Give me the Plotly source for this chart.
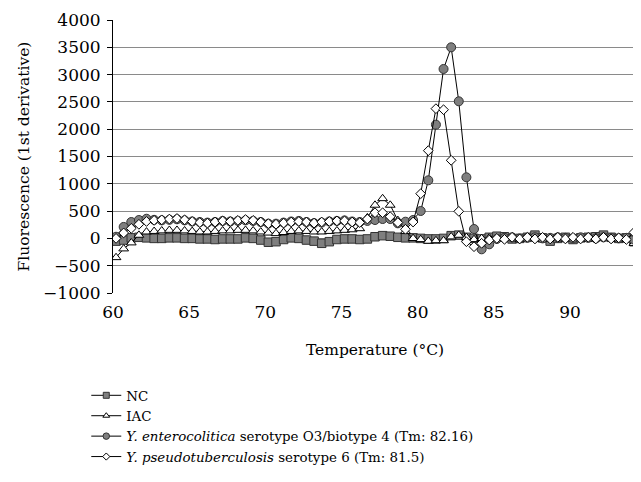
import plotly.graph_objects as go

temperature = [60.2, 60.7, 61.2, 61.7, 62.2, 62.7, 63.2, 63.7, 64.2, 64.7,
               65.2, 65.7, 66.2, 66.7, 67.2, 67.7, 68.2, 68.7, 69.2, 69.7,
               70.2, 70.7, 71.2, 71.7, 72.2, 72.7, 73.2, 73.7, 74.2, 74.7,
               75.2, 75.7, 76.2, 76.7, 77.2, 77.7, 78.2, 78.7, 79.2, 79.7,
               80.2, 80.7, 81.2, 81.7, 82.2, 82.7, 83.2, 83.7, 84.2, 84.7,
               85.2, 85.7, 86.2, 86.7, 87.2, 87.7, 88.2, 88.7, 89.2, 89.7,
               90.2, 90.7, 91.2, 91.7, 92.2, 92.7, 93.2, 93.7, 94.2]

nc = [-50, -30, 10, 20, 10, 0, 0, 10, 10, 0,
      0, -10, -10, -20, -10, -10, -10, 10, 0, -30,
      -70, -60, -20, 10, 0, -30, -50, -90, -60, -20,
      -10, -10, -20, -10, 30, 50, 40, 20, 10, 10,
      0, -10, -10, 0, 50, 60, 20, 0, -10, 20,
      40, 30, -10, 0, 20, 60, 10, -50, 0, 20,
      -20, 10, 20, 30, 60, 20, 0, 10, -60]

iac = [-350, -190, -80, 60, 120, 130, 140, 150, 150, 140,
       130, 120, 120, 130, 140, 140, 150, 150, 140, 120,
       100, 90, 110, 130, 140, 130, 120, 120, 130, 140,
       150, 160, 180, 380, 610, 730, 610, 330, 130, 0,
       -20, -50, -40, -40, 30, 60, 20, -20, 0, 10,
       -10, 20, 0, -20, 10, 0, -20, 10, 20, -10,
       0, 10, -10, 20, 0, 10, -20, 0, -90]

ent = [30, 210, 300, 337, 360, 340, 330, 340, 350, 330,
       310, 300, 290, 300, 320, 310, 320, 330, 320, 300,
       270, 270, 290, 310, 320, 300, 280, 290, 310, 320,
       330, 310, 300, 320, 337, 355, 355, 276, 306, 337,
       502, 1064, 2083, 3103, 3500, 2511, 1119, 172, -200, -108,
       -10, 10, 20, 0, 10, 20, 0, 10, 20, 10,
       0, 20, 10, 0, 20, 10, 0, 10, -20]

pse = [0, 100, 184, 258, 310, 330, 340, 355, 365, 340,
       310, 290, 280, 300, 320, 310, 330, 345, 330, 300,
       270, 260, 280, 300, 310, 300, 280, 300, 310, 320,
       320, 300, 290, 355, 470, 470, 397, 290, 167, 300,
       819, 1607, 2376, 2357, 1430, 496, -60, -152, -90, -30,
       0, -17, 20, -10, 20, -10, 20, -10, 20, -10,
       20, -10, 20, -10, 20, -10, 10, -20, 110]

x_ticks = [60, 65, 70, 75, 80, 85, 90]
y_ticks = [-1000, -500, 0, 500, 1000, 1500, 2000, 2500, 3000, 3500, 4000]

names = ["NC", "IAC",
         "<i>Y. enterocolitica</i> serotype O3/biotype 4 (Tm: 82.16)",
         "<i>Y. pseudotuberculosis</i> serotype 6 (Tm: 81.5)"]
series = [nc, iac, ent, pse]
symbols = ["square", "triangle-up", "circle", "diamond"]
fills = ["#7f7f7f", "#ffffff", "#7f7f7f", "#ffffff"]
outlines = ["#333333", "#000000", "#333333", "#000000"]
sizes = [8.5, 8.5, 9, 7.5]
legend_sizes = [6, 6, 6.5, 5.5]

FONT = "DejaVu Serif"
fig = go.Figure()
for name, ys, sym, fc, oc, sz in zip(names, series, symbols, fills, outlines, sizes):
    fig.add_trace(go.Scatter(
        x=temperature, y=ys, mode="lines+markers", showlegend=False,
        line=dict(color="#000000", width=1),
        marker=dict(symbol=sym, size=sz, color=fc, line=dict(color=oc, width=1)),
    ))
for name, sym, fc, oc, sz in zip(names, symbols, fills, outlines, legend_sizes):
    fig.add_trace(go.Scatter(
        x=[None], y=[None], mode="lines+markers", name=name,
        line=dict(color="#000000", width=1),
        marker=dict(symbol=sym, size=sz, color=fc, line=dict(color=oc, width=1)),
    ))

# page body adds an 8px offset, so the figure is sized to fit the window
fig.update_layout(
    width=633, height=474,
    margin=dict(l=105, r=4, t=12, b=189, autoexpand=False),
    paper_bgcolor="white", plot_bgcolor="white",
    font=dict(family=FONT, color="#000000"),
    showlegend=True,
    legend=dict(x=-0.051, y=-0.319, xanchor="left", yanchor="top",
                font=dict(family=FONT, size=13.4), tracegroupgap=0,
                itemwidth=30, bgcolor="rgba(0,0,0,0)"),
    xaxis=dict(range=[60, 94.4], tickvals=x_ticks, showgrid=False, zeroline=False,
               showline=False, ticks="outside", ticklen=4, tickcolor="rgba(0,0,0,0)",
               tickfont=dict(size=17), automargin=False,
               title=dict(text="Temperature (°C)", font=dict(size=15.5), standoff=22)),
    yaxis=dict(range=[-1000, 4000], tickvals=y_ticks, showgrid=True,
               gridcolor="#8a8a8a", gridwidth=1, zeroline=False,
               showline=True, linecolor="#000000", linewidth=1,
               ticks="outside", ticklen=5, tickcolor="#000000", ticklabelstandoff=3,
               tickfont=dict(size=17), automargin=False,
               title=dict(text="Fluorescence (1st derivative)", font=dict(size=15.5), standoff=9)),
)

fig.write_html("out.html")
